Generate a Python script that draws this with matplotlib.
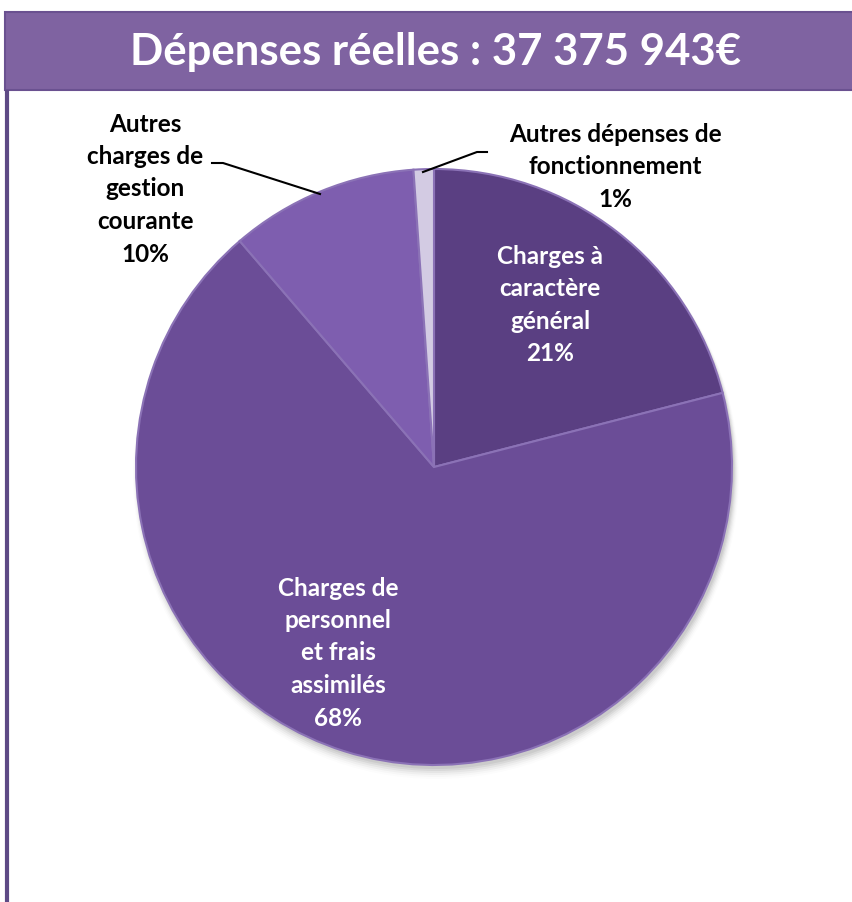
import matplotlib.pyplot as plt
from matplotlib.patches import Rectangle
import numpy as np

plt.rcParams['font.family'] = ['Lato', 'DejaVu Sans']

# data
titre = "Dépenses réelles : 37 375 943€"
postes = ["Charges à\ncaractère\ngénéral",
          "Charges de\npersonnel\net frais\nassimilés",
          "Autres\ncharges de\ngestion\ncourante",
          "Autres dépenses de\nfonctionnement"]
parts = [21.0, 67.7, 10.2, 1.1]
couleurs = ['#5a3f82', '#6b4d97', '#7e5eaf', '#d3cbe3']

W, H = 852, 902
fig = plt.figure(figsize=(W / 100, H / 100), dpi=100)
ax = fig.add_axes([0, 0, 1, 1])

# cadre : bandeau de titre + bord gauche
ax.add_patch(Rectangle((5, H - 90), W + 10, 78, facecolor='#7f63a1',
                       edgecolor='#6a5190', lw=1.5))
ax.plot([7, 7], [0, H - 90], color='#5e4a85', lw=3, solid_capstyle='butt')
ax.text(436, H - 52, titre, color='white', fontsize=31.5, fontweight='bold',
        ha='center', va='center')

cx, cy, r = 434, H - 467, 298

# ombre légère
for k, a in zip(range(6), np.linspace(0.06, 0.01, 6)):
    ax.add_patch(plt.Circle((cx + 2, cy - 4 - k), r + k, color='black',
                            alpha=a, lw=0, zorder=0))

wedges, _ = ax.pie(parts, colors=couleurs, startangle=90, counterclock=False,
                   center=(cx, cy), radius=r, frame=True,
                   wedgeprops=dict(edgecolor='#8b72b6', linewidth=1.5))
ax.set_xlim(0, W)
ax.set_ylim(0, H)
ax.set_aspect('equal')
ax.axis('off')

pct = ['%.0f%%' % p for p in parts]
style = dict(fontsize=17.5, fontweight='bold', ha='center', va='center',
             linespacing=1.5)

# étiquettes dans les parts
ax.text(550, H - 305, postes[0] + "\n" + pct[0], color='white', **style)
ax.text(338, H - 653, postes[1] + "\n" + pct[1], color='white', **style)

# étiquettes extérieures avec traits de rappel
ax.text(145, H - 189, postes[2] + "\n" + pct[2], color='black', **style)
ax.plot([212, 223, 320], [H - 163, H - 163, H - 194], color='black', lw=1.5)

ax.text(615, H - 167, postes[3] + "\n" + pct[3], color='black', **style)
ax.plot([423, 477, 487], [H - 172, H - 152, H - 152], color='black', lw=1.5)

fig.savefig('out.png', dpi=100, facecolor='white')
